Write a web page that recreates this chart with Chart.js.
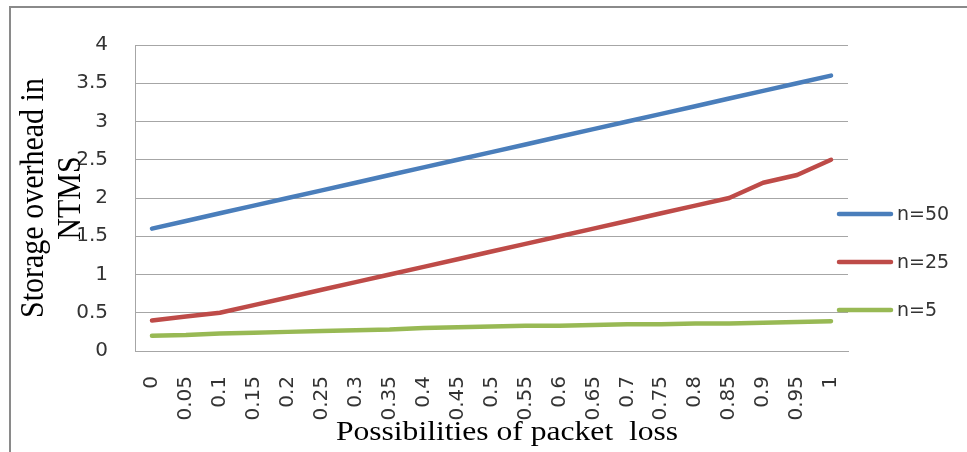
<!DOCTYPE html>
<html>
<head>
<meta charset="utf-8">
<script src="https://cdn.jsdelivr.net/npm/chart.js@4"></script>
<style>
  html, body { margin: 0; padding: 0; background: #ffffff; }
  #wrap { width: 967px; height: 452px; position: relative; }
</style>
</head>
<body>
<div id="wrap"><canvas id="c" width="967" height="452"></canvas></div>
<script>
// Probability of packet loss (category axis)
const lossLabels = ['0','0.05','0.1','0.15','0.2','0.25','0.3','0.35','0.4','0.45','0.5',
                    '0.55','0.6','0.65','0.7','0.75','0.8','0.85','0.9','0.95','1'];

// Storage overhead in NTMS for each group size
const n50 = [1.6,1.7,1.8,1.9,2.0,2.1,2.2,2.3,2.4,2.5,2.6,2.7,2.8,2.9,3.0,3.1,3.2,3.3,3.4,3.5,3.6];
const n25 = [0.4,0.45,0.5,0.6,0.7,0.8,0.9,1.0,1.1,1.2,1.3,1.4,1.5,1.6,1.7,1.8,1.9,2.0,2.2,2.3,2.5];
const n5  = [0.2,0.21,0.23,0.24,0.25,0.26,0.27,0.28,0.3,0.31,0.32,0.33,0.33,0.34,0.35,0.35,0.36,0.36,0.37,0.38,0.39];

const seriesNames = ['n=50', 'n=25', 'n=5'];
const yTicks = { min: 0, max: 4, step: 0.5 };

const xTitle = 'Possibilities of packet  loss';
const yTitleLines = ['Storage overhead in', 'NTMS'];

const colors = ['#4a7ebb', '#be4b48', '#98b954'];
const gridGray = '#a6a6a6';

// Frame around the chart (top and left edges)
const framePlugin = {
  id: 'frame',
  beforeDraw(chart) {
    const ctx = chart.ctx;
    ctx.save();
    ctx.fillStyle = '#ffffff';
    ctx.fillRect(0, 0, chart.width, chart.height);
    ctx.strokeStyle = '#8a8a8a';
    ctx.lineWidth = 2;
    ctx.beginPath();
    ctx.moveTo(10, chart.height);
    ctx.lineTo(10, 7);
    ctx.lineTo(chart.width, 7);
    ctx.stroke();
    ctx.restore();
  }
};

// Axis titles in a serif face, slightly widened
const titlesPlugin = {
  id: 'titles',
  afterDraw(chart) {
    const ctx = chart.ctx;
    ctx.save();
    ctx.fillStyle = '#000000';
    ctx.textAlign = 'center';
    ctx.textBaseline = 'alphabetic';
    // x axis title
    ctx.save();
    ctx.translate(507, 440);
    ctx.scale(1.17, 1);
    ctx.font = '27px "Liberation Serif", "Times New Roman", serif';
    ctx.fillText(xTitle, 0, 0);
    ctx.restore();
    // y axis title, two lines, rotated
    ctx.font = '30px "Liberation Serif", "Times New Roman", serif';
    const xs = [43, 80];
    yTitleLines.forEach((line, i) => {
      ctx.save();
      ctx.translate(xs[i], 198);
      ctx.rotate(-Math.PI / 2);
      ctx.scale(1, 1.1);
      ctx.fillText(line, 0, 0);
      ctx.restore();
    });
    ctx.restore();
  }
};

// Legend on the right built from the datasets
const legendPlugin = {
  id: 'sideLegend',
  afterDraw(chart) {
    const ctx = chart.ctx;
    const ys = [214, 262, 310];
    ctx.save();
    chart.data.datasets.forEach((ds, i) => {
      ctx.strokeStyle = ds.borderColor;
      ctx.lineWidth = 4.5;
      ctx.lineCap = 'round';
      ctx.beginPath();
      ctx.moveTo(839, ys[i]);
      ctx.lineTo(891, ys[i]);
      ctx.stroke();
      ctx.fillStyle = '#333333';
      ctx.font = '19px "DejaVu Sans", sans-serif';
      ctx.textAlign = 'left';
      ctx.textBaseline = 'middle';
      ctx.fillText(ds.label, 897, ys[i] + 1);
    });
    ctx.restore();
  }
};

const lineStyle = (label, data, color) => ({
  label, data,
  borderColor: color,
  backgroundColor: color,
  borderWidth: 4.5,
  borderCapStyle: 'round',
  borderJoinStyle: 'round',
  pointRadius: 0,
  tension: 0,
  fill: false
});

new Chart(document.getElementById('c'), {
  type: 'line',
  data: {
    labels: lossLabels,
    datasets: [
      lineStyle(seriesNames[0], n50, colors[0]),
      lineStyle(seriesNames[1], n25, colors[1]),
      lineStyle(seriesNames[2], n5, colors[2])
    ]
  },
  options: {
    responsive: false,
    devicePixelRatio: 1,
    animation: false,
    layout: { padding: { left: 0, top: 45, right: 119, bottom: 0 } },
    plugins: {
      legend: { display: false },
      tooltip: { enabled: false }
    },
    scales: {
      x: {
        type: 'category',
        offset: true,
        grid: { display: false, drawTicks: false },
        border: { display: true, color: gridGray, width: 1 },
        ticks: {
          autoSkip: false,
          minRotation: 90,
          maxRotation: 90,
          padding: 25,
          color: '#333333',
          font: { family: '"DejaVu Sans", sans-serif', size: 20 }
        },
        afterFit(s) { s.height = 101; }
      },
      y: {
        min: yTicks.min,
        max: yTicks.max,
        grid: { color: gridGray, lineWidth: 1, drawTicks: false },
        border: { display: true, color: gridGray, width: 1 },
        ticks: {
          stepSize: yTicks.step,
          padding: 27,
          color: '#333333',
          font: { family: '"DejaVu Sans", sans-serif', size: 20 },
          callback: (v) => String(Math.round(v * 10) / 10)
        },
        afterFit(s) { s.width = 135; }
      }
    }
  },
  plugins: [framePlugin, titlesPlugin, legendPlugin]
});
</script>
</body>
</html>
